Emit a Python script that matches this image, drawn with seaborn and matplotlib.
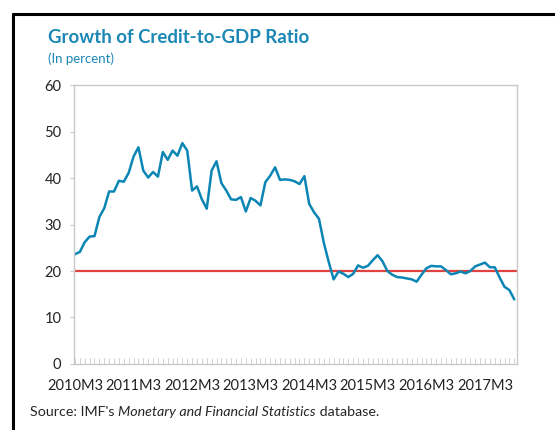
import numpy as np
import pandas as pd
import matplotlib
matplotlib.use("Agg")
import matplotlib.pyplot as plt
import seaborn as sns
from matplotlib.lines import Line2D

sns.set_style("white")
plt.rcParams["font.family"] = ["Lato", "DejaVu Sans"]

# monthly growth of credit-to-GDP ratio, 2010M3 .. 2017M9
credit_growth = [
    23.6, 24.1, 26.2, 27.4, 27.5, 31.6, 33.5, 37.1, 37.1, 39.4,
    39.2, 41.1, 44.6, 46.6, 41.6, 40.1, 41.3, 40.3, 45.6, 43.9,
    45.9, 44.8, 47.5, 45.9, 37.3, 38.2, 35.4, 33.4, 41.6, 43.6,
    38.9, 37.3, 35.4, 35.3, 35.9, 32.8, 35.7, 35.1, 34.1, 39.1,
    40.5, 42.3, 39.6, 39.7, 39.6, 39.3, 38.7, 40.4, 34.4, 32.6,
    31.2, 26.0, 21.9, 18.2, 19.9, 19.4, 18.7, 19.4, 21.2, 20.7,
    21.1, 22.3, 23.4, 22.1, 20.0, 19.2, 18.7, 18.6, 18.4, 18.2,
    17.7, 19.2, 20.6, 21.1, 21.0, 21.0, 20.2, 19.3, 19.5, 19.9,
    19.5, 20.0, 21.0, 21.4, 21.8, 20.8, 20.8, 18.6, 16.6, 15.9,
    13.9,
]
periods = pd.period_range("2010-03", periods=len(credit_growth), freq="M")
period_labels = [f"{p.year}M{p.month}" for p in periods]
threshold = 20

df = pd.DataFrame({"idx": np.arange(len(credit_growth)), "value": credit_growth})

blue = "#0b86b4"
red = "#e0433f"
spine_grey = "#c9c9c9"

fig = plt.figure(figsize=(5.55, 4.30), dpi=100)
ax = fig.add_axes([0.1333, 0.1535, 0.7977, 0.6488])

ax.axhline(threshold, color=red, lw=1.6, zorder=1)
sns.lineplot(data=df, x="idx", y="value", color=blue, lw=1.8, ax=ax, zorder=2)

ax.set_xlim(-0.2, 90.5)
ax.set_ylim(0, 60)
ax.set_yticks(range(0, 61, 10))
ax.set_xticks(df["idx"][::12])
ax.set_xticklabels(period_labels[::12])
ax.set_xticks(df["idx"], minor=True)
ax.set_xlabel("")
ax.set_ylabel("")

for s in ax.spines.values():
    s.set_color(spine_grey)
    s.set_linewidth(1.0)

ax.tick_params(axis="y", which="major", left=True, length=3, width=0.8,
               color=spine_grey, labelsize=10.5, labelcolor="#222222", pad=6)
ax.tick_params(axis="x", which="both", bottom=True, direction="in", length=4,
               width=0.6, color=spine_grey)
ax.tick_params(axis="x", which="major", labelsize=10.5, labelcolor="#222222", pad=11)

# title block
fig.text(48 / 555, 1 - 43 / 430, "Growth of Credit-to-GDP Ratio", color="#1a87b5",
         fontsize=13.4, fontweight="bold", ha="left", va="baseline")
fig.text(48 / 555, 1 - 63 / 430, "(In percent)", color="#1a87b5",
         fontsize=9.5, ha="left", va="baseline")

# source line with italic part
renderer = fig.canvas.get_renderer()
y_src = 1 - 416 / 430
t1 = fig.text(30 / 555, y_src, "Source: IMF's ", fontsize=10.3, ha="left", va="baseline")
bb = t1.get_window_extent(renderer)
t2 = fig.text(bb.x1 / fig.bbox.width, y_src, "Monetary and Financial Statistics",
              fontsize=10.3, style="italic", ha="left", va="baseline")
bb2 = t2.get_window_extent(renderer)
fig.text(bb2.x1 / fig.bbox.width, y_src, " database.", fontsize=10.3,
         ha="left", va="baseline")

# document frame around the chart
fig.add_artist(Line2D([12.5 / 555, 12.5 / 555], [0, 1 - 14 / 430], color="black",
                      lw=2.2, transform=fig.transFigure))
fig.add_artist(Line2D([12.5 / 555, 1], [1 - 14 / 430, 1 - 14 / 430], color="black",
                      lw=2.2, transform=fig.transFigure))

fig.savefig("out.png", dpi=100)
